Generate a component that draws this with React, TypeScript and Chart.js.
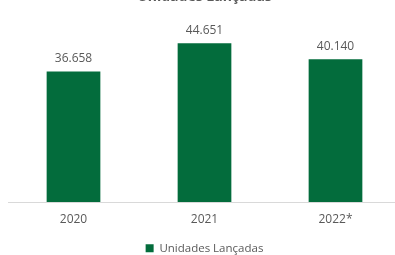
import React, { useEffect, useRef } from "react";
import { Chart, registerables } from "chart.js";

Chart.register(...registerables);

const categories = ["2020", "2021", "2022*"];
const seriesName = "Unidades Lançadas";
const values = [36658, 44651, 40140];
const titleText = "Unidades Lançadas";

const GREEN = "#036c3c";
const TEXT = "#595959";
const FONT = "'Open Sans', 'Noto Sans', sans-serif";

function fmt(v: number): string {
  return String(v).replace(/\B(?=(\d{3})+(?!\d))/g, ".");
}

const labelPlugin = {
  id: "barLabels",
  afterDatasetsDraw(chart: any) {
    const ctx = chart.ctx;
    const meta = chart.getDatasetMeta(0);
    ctx.save();
    ctx.fillStyle = TEXT;
    ctx.font = `12px ${FONT}`;
    ctx.textAlign = "center";
    ctx.textBaseline = "middle";
    meta.data.forEach((bar: any, i: number) => {
      ctx.fillText(fmt(values[i]), bar.x, bar.y - 13);
    });
    ctx.restore();
  },
};

export default function App() {
  const ref = useRef<HTMLCanvasElement>(null);
  useEffect(() => {
    if (!ref.current) return;
    const chart = new Chart(ref.current, {
      type: "bar",
      data: {
        labels: categories,
        datasets: [
          {
            label: seriesName,
            data: values,
            backgroundColor: GREEN,
            borderWidth: 0,
            barPercentage: 0.41,
            categoryPercentage: 1,
          },
        ],
      },
      options: {
        responsive: false,
        animation: false,
        layout: { padding: { left: 8, right: 9, top: 0, bottom: 0 } },
        plugins: {
          title: {
            display: true,
            text: titleText,
            color: TEXT,
            font: { family: FONT, size: 14, weight: "bold" },
            padding: { top: 7, bottom: 6 },
          },
          legend: {
            position: "bottom",
            labels: {
              color: TEXT,
              font: { family: FONT, size: 11.5 },
              boxWidth: 8,
              boxHeight: 8,
              padding: 14,
            },
          },
          tooltip: { enabled: false },
        },
        scales: {
          x: {
            grid: { display: false },
            border: { display: true, color: "#d9d9d9" },
            ticks: { color: TEXT, font: { family: FONT, size: 12 }, padding: 2 },
          },
          y: {
            display: false,
            min: 0,
            max: 53450,
          },
        },
      },
      plugins: [labelPlugin],
    });
    return () => chart.destroy();
  }, []);
  return (
    <div style={{ position: "fixed", left: 0, top: 0, width: 395, height: 255, overflow: "hidden", background: "#fff" }}>
      <canvas ref={ref} width={410} height={282} style={{ position: "absolute", left: 0, top: -18, width: 410, height: 282 }} />
    </div>
  );
}
